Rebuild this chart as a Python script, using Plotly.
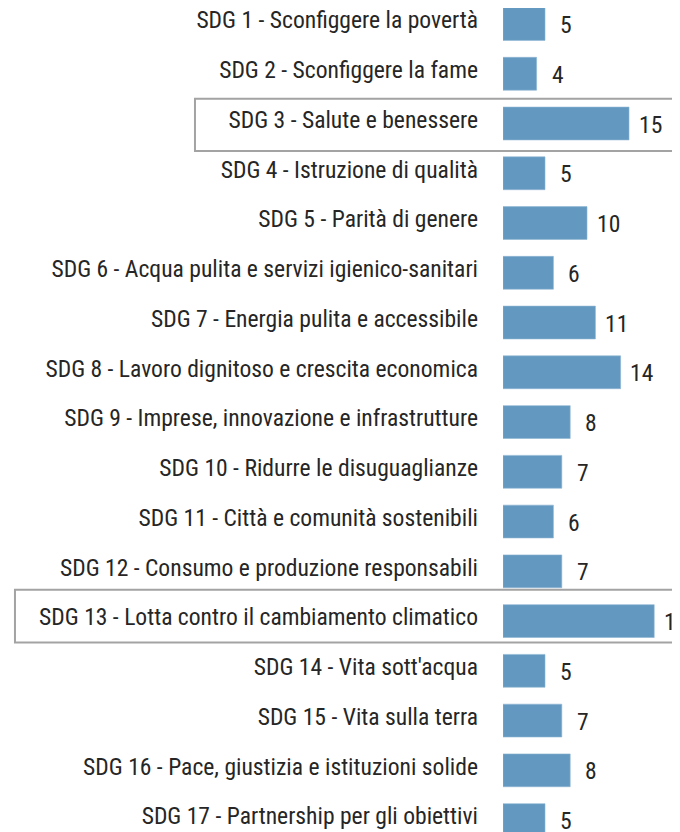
import plotly.graph_objects as go

labels = [
    "SDG 1 - Sconfiggere la povertà",
    "SDG 2 - Sconfiggere la fame",
    "SDG 3 - Salute e benessere",
    "SDG 4 - Istruzione di qualità",
    "SDG 5 - Parità di genere",
    "SDG 6 - Acqua pulita e servizi igienico-sanitari",
    "SDG 7 - Energia pulita e accessibile",
    "SDG 8 - Lavoro dignitoso e crescita economica",
    "SDG 9 - Imprese, innovazione e infrastrutture",
    "SDG 10 - Ridurre le disuguaglianze",
    "SDG 11 - Città e comunità sostenibili",
    "SDG 12 - Consumo e produzione responsabili",
    "SDG 13 - Lotta contro il cambiamento climatico",
    "SDG 14 - Vita sott'acqua",
    "SDG 15 - Vita sulla terra",
    "SDG 16 - Pace, giustizia e istituzioni solide",
    "SDG 17 - Partnership per gli obiettivi",
]
values = [5, 4, 15, 5, 10, 6, 11, 14, 8, 7, 6, 7, 18, 5, 7, 8, 5]
highlighted = ["SDG 3 - Salute e benessere",
               "SDG 13 - Lotta contro il cambiamento climatico"]

FONT = "Roboto Condensed, Liberation Sans Narrow, sans-serif"
BAR_COLOR = '#6399c0'
TEXT_COLOR = '#262626'

fig = go.Figure()
fig.add_trace(go.Bar(
    x=values,
    y=labels,
    orientation='h',
    width=0.66,
    marker=dict(color=BAR_COLOR, line=dict(color='#8fb6d4', width=0.6)),
    hoverinfo='x+y',
))

# value labels to the right of each bar
for lab, v in zip(labels, values):
    fig.add_annotation(
        x=v, y=lab, text=str(v), showarrow=False,
        xanchor='center', xshift=21, yshift=-1,
        font=dict(family=FONT, size=23.6, color=TEXT_COLOR),
    )

# grey frames round the highlighted goals
box_offsets = {highlighted[0]: (-0.5, 0.55), highlighted[1]: (-0.63, 0.43)}
box_left = {highlighted[0]: -1.665, highlighted[1]: -2.638}
for lab in highlighted:
    i = labels.index(lab)
    lo, hi = box_offsets[lab]
    fig.add_shape(
        type='rect', xref='paper', yref='y',
        x0=box_left[lab], x1=1.2, y0=i + lo, y1=i + hi,
        line=dict(color='#a3a3a3', width=2),
        fillcolor='rgba(0,0,0,0)', layer='below',
    )

fig.update_layout(
    width=680,
    height=832,
    margin=dict(l=495, r=0, t=0, b=0, autoexpand=False),
    plot_bgcolor='white',
    paper_bgcolor='white',
    showlegend=False,
    font=dict(family=FONT, size=23.6, color=TEXT_COLOR),
    xaxis=dict(range=[0, 22.02], visible=False, showgrid=False,
               zeroline=False, automargin=False),
    yaxis=dict(
        range=[16.40, -0.3216], automargin=False,
        showgrid=False, zeroline=False, showline=False,
        ticks='', ticklabelstandoff=24, ticklabelshift=4,
        tickfont=dict(family=FONT, size=23.6, color=TEXT_COLOR),
    ),
)

fig.write_html("out.html")
